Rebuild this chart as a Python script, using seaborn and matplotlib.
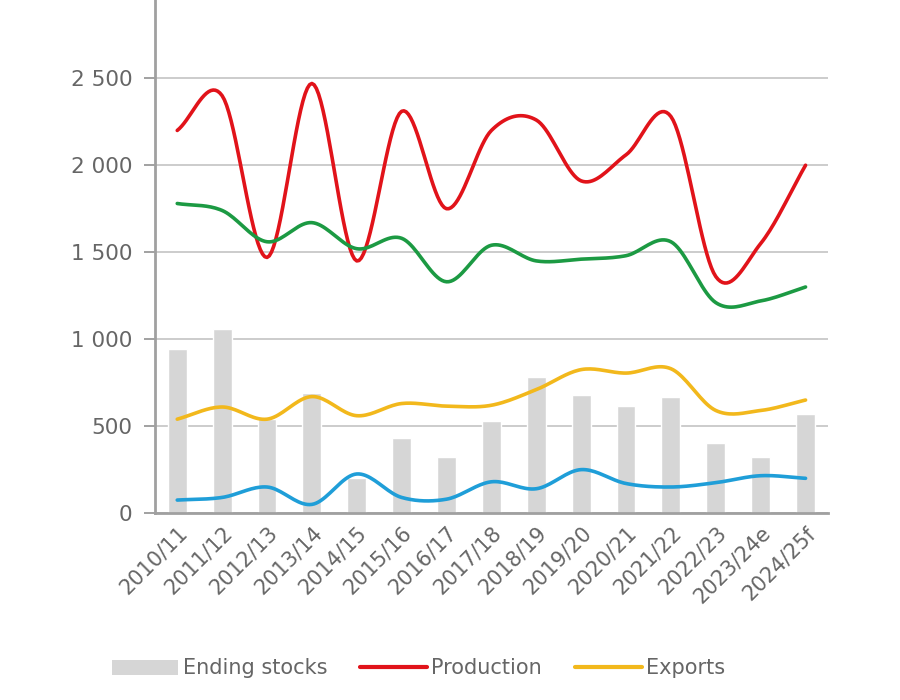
import numpy as np
import pandas as pd
import matplotlib
matplotlib.use("Agg")
import matplotlib.pyplot as plt
import seaborn as sns
from matplotlib.patches import Patch
from matplotlib.lines import Line2D

seasons = ["2010/11", "2011/12", "2012/13", "2013/14", "2014/15", "2015/16",
           "2016/17", "2017/18", "2018/19", "2019/20", "2020/21", "2021/22",
           "2022/23", "2023/24e", "2024/25f"]
ending_stocks = [945, 1060, 540, 690, 200, 430, 320, 530, 785, 680, 615, 670, 405, 325, 570]
production = [2200, 2400, 1470, 2470, 1450, 2310, 1750, 2200, 2260, 1910, 2060, 2280, 1360, 1550, 2000]
consumption = [1780, 1740, 1560, 1670, 1520, 1580, 1330, 1540, 1450, 1460, 1480, 1560, 1210, 1220, 1300]
exports = [540, 610, 540, 670, 560, 630, 615, 620, 710, 825, 805, 830, 590, 590, 650]
imports = [75, 90, 150, 50, 225, 90, 80, 180, 140, 250, 170, 150, 175, 215, 200]

GRIS = "#d6d6d6"
ROJO = "#e1131a"
VERDE = "#1c9a43"
AMARILLO = "#f2b81c"
AZUL = "#1f9ed8"


def suavizar(valores, pasos=20):
    # curva Catmull-Rom como las lineas suavizadas de Excel
    y = np.asarray(valores, dtype=float)
    x = np.arange(len(y), dtype=float)
    p = np.concatenate([[2 * y[0] - y[1]], y, [2 * y[-1] - y[-2]]])
    xs, ys = [], []
    for i in range(len(y) - 1):
        p0, p1, p2, p3 = p[i], p[i + 1], p[i + 2], p[i + 3]
        t = np.linspace(0, 1, pasos, endpoint=False)
        seg = 0.5 * ((2 * p1) + (-p0 + p2) * t + (2 * p0 - 5 * p1 + 4 * p2 - p3) * t ** 2
                     + (-p0 + 3 * p1 - 3 * p2 + p3) * t ** 3)
        xs.extend(x[i] + t)
        ys.extend(seg)
    xs.append(x[-1])
    ys.append(y[-1])
    return np.array(xs), np.array(ys)


df = pd.DataFrame({"Season": seasons, "Ending stocks": ending_stocks})

sns.set_style("white")
plt.rcParams["font.family"] = ["DejaVu Sans"]

fig = plt.figure(figsize=(9, 7), dpi=100)
ax = fig.add_axes([0.172, 0.267, 0.748, 0.733])

sns.barplot(data=df, x="Season", y="Ending stocks", color=GRIS, width=0.42,
            saturation=1, ax=ax, zorder=2)

for serie, color in [(production, ROJO), (consumption, VERDE),
                     (exports, AMARILLO), (imports, AZUL)]:
    xs, ys = suavizar(serie)
    sns.lineplot(x=xs, y=ys, color=color, linewidth=2.6, ax=ax, zorder=3,
                 sort=False, estimator=None)

ax.set_xlim(-0.5, len(seasons) - 0.5)
ax.set_ylim(0, 2950)
ax.set_yticks([0, 500, 1000, 1500, 2000, 2500])
ax.set_yticklabels([f"{v:,}".replace(",", " ") for v in [0, 500, 1000, 1500, 2000, 2500]])
ax.yaxis.grid(True, color="#c8c8c8", linewidth=1.3, zorder=0)
ax.set_axisbelow(True)
ax.set_xlabel("")
ax.set_ylabel("")

ax.set_xticks(np.arange(len(seasons)))
ax.set_xticklabels(seasons, rotation=45, ha="right", rotation_mode="anchor")
ax.set_xticks(np.arange(len(seasons) + 1) - 0.5, minor=True)
ax.tick_params(axis="x", which="major", length=0, pad=7, labelsize=15, labelcolor="#666666")
ax.tick_params(axis="x", which="minor", length=6, width=1.3, color="#9a9a9a", direction="out")
ax.tick_params(axis="y", length=8, width=1.3, color="#9a9a9a", labelsize=15.5,
               labelcolor="#666666", pad=8, left=True)

for lado in ["top", "right"]:
    ax.spines[lado].set_visible(False)
ax.spines["left"].set_color("#a0a0a0")
ax.spines["left"].set_linewidth(2)
ax.spines["bottom"].set_color("#a0a0a0")
ax.spines["bottom"].set_linewidth(2)

handles = [Patch(facecolor=GRIS, edgecolor="none"),
           Line2D([0], [0], color=ROJO, linewidth=3),
           Line2D([0], [0], color=AMARILLO, linewidth=3)]
labels = ["Ending stocks", "Production", "Exports"]
fig.legend(handles, labels, loc="center", bbox_to_anchor=(0.465, 0.045), ncol=3,
           frameon=False, handlelength=3.2, handletextpad=0.2, columnspacing=1.6,
           prop={"family": ["Liberation Sans Narrow", "DejaVu Sans"], "size": 15},
           labelcolor="#666666")

fig.savefig("out.png", dpi=100)
